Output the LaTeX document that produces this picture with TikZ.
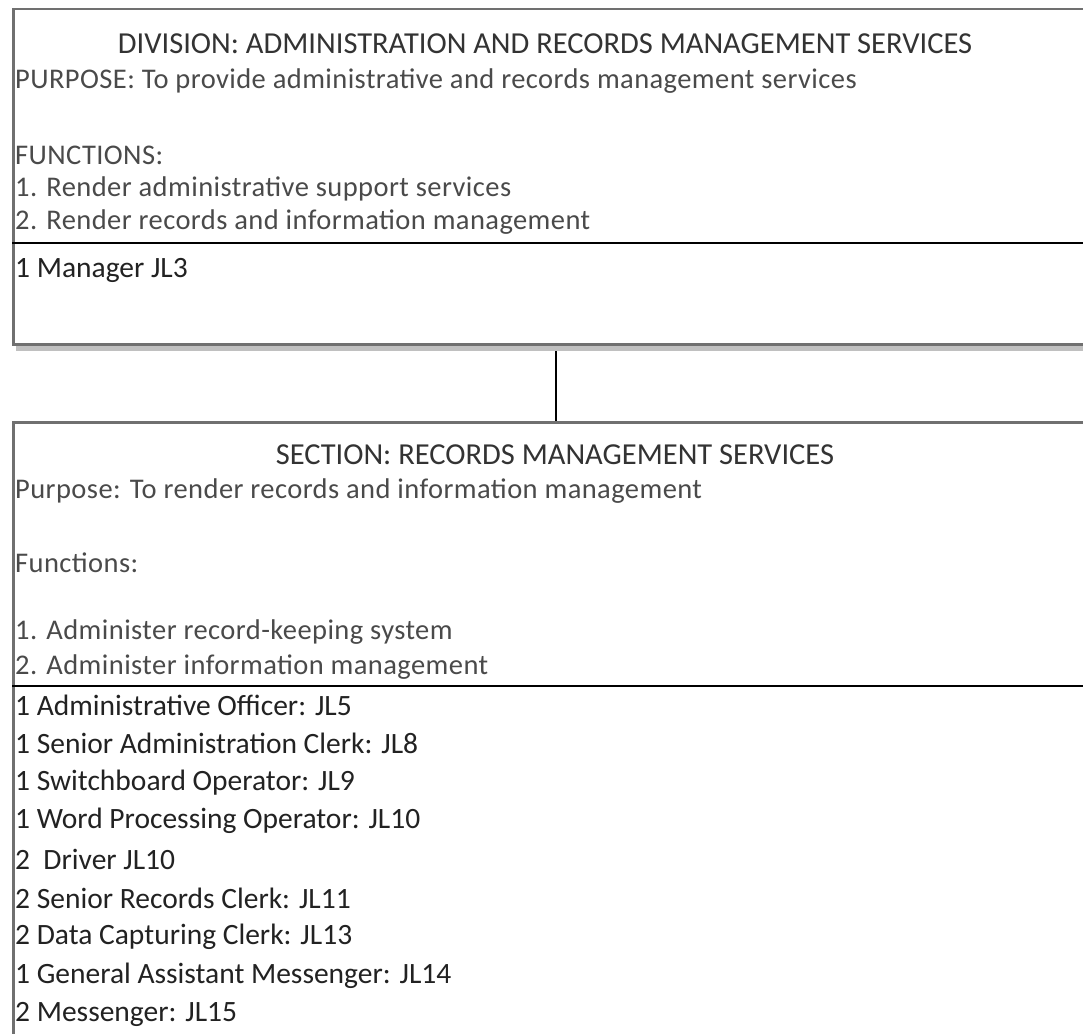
\documentclass[tikz,border=0pt]{standalone}
\usepackage{fontspec}
\setmainfont{Carlito}
\newfontfamily\bodyfont[LetterSpace=1.5]{Carlito}
\definecolor{boxgray}{HTML}{707070}
\definecolor{shadowgray}{HTML}{C0C0C0}
\definecolor{titlecol}{HTML}{333333}
\definecolor{bodycol}{HTML}{4A4A4A}
\definecolor{itemcol}{HTML}{222222}
\begin{document}
\begin{tikzpicture}[x=1pt,y=-1pt,
  boxframe/.style={draw=boxgray, line width=2.5pt, fill=white, anchor=north west, inner sep=0pt, minimum width=1120pt},
  shadowbar/.style={fill=shadowgray, anchor=north west, inner sep=0pt, minimum width=1120pt, minimum height=8pt},
  titletext/.style={font=\fontsize{30.5}{34}\selectfont, text=titlecol, inner sep=0pt},
  bodytext/.style={font=\bodyfont\fontsize{28.5}{34}\selectfont, text=bodycol, anchor=west, inner sep=0pt},
  itemtext/.style={font=\fontsize{29.5}{34}\selectfont, text=itemcol, anchor=west, inner sep=0pt},
  divrule/.style={draw=black, line width=2pt},
  conn/.style={draw=black, line width=2pt}]
\useasboundingbox (0,0) rectangle (1083,1033);
\clip (0,0) rectangle (1083,1033);
\fill[white] (0,0) rectangle (1083,1033);
\coordinate (cx) at (556,0);
% top box
\node[shadowbar] (shadow) at (16,343) {};
\node[boxframe, minimum height=335pt] (top) at (12,8) {};
\node[titletext] (dtitle) at (545,44) {DIVISION: ADMINISTRATION AND RECORDS MANAGEMENT SERVICES};
\node[bodytext] (dpurp) at (15,81) {PURPOSE: To provide administrative and records management services};
\node[bodytext] (dfunc) at (15,155) {FUNCTIONS:};
\node[bodytext] (df1) at (15,189) {1. Render administrative support services};
\node[bodytext] (df2) at (15,222) {2. Render records and information management};
\coordinate (d1) at (12,243);
\draw[divrule] (d1) -- (d1 -| top.east);
\node[itemtext] (dman) at (15,270) {1 Manager JL3};
% bottom box
\node[boxframe, minimum height=700pt] (bot) at (12,421) {};
\draw[conn] (shadow.south -| cx) -- (bot.north -| cx);
\node[titletext] (stitle) at (555,455) {SECTION: RECORDS MANAGEMENT SERVICES};
\node[bodytext] (spurp) at (15,491) {Purpose: To render records and information management};
\node[bodytext] (sfunc) at (15,563) {Functions:};
\node[bodytext] (sf1) at (15,632) {1. Administer record-keeping system};
\node[bodytext] (sf2) at (15,667) {2. Administer information management};
\coordinate (d2) at (12,686);
\draw[divrule] (d2) -- (d2 -| bot.east);
\node[itemtext] (i1) at (15,705) {1 Administrative Officer: JL5};
\node[itemtext] (i2) at (15,743.7) {1 Senior Administration Clerk: JL8};
\node[itemtext] (i3) at (15,782.4) {1 Switchboard Operator: JL9};
\node[itemtext] (i4) at (15,821.1) {1 Word Processing Operator: JL10};
\node[itemtext] (i5) at (15,859.8) {2\ \ Driver JL10};
\node[itemtext] (i6) at (15,898.5) {2 Senior Records Clerk: JL11};
\node[itemtext] (i7) at (15,937.2) {2 Data Capturing Clerk: JL13};
\node[itemtext] (i8) at (15,975.9) {1 General Assistant Messenger: JL14};
\node[itemtext] (i9) at (15,1014.6) {2 Messenger: JL15};
\end{tikzpicture}
\end{document}
